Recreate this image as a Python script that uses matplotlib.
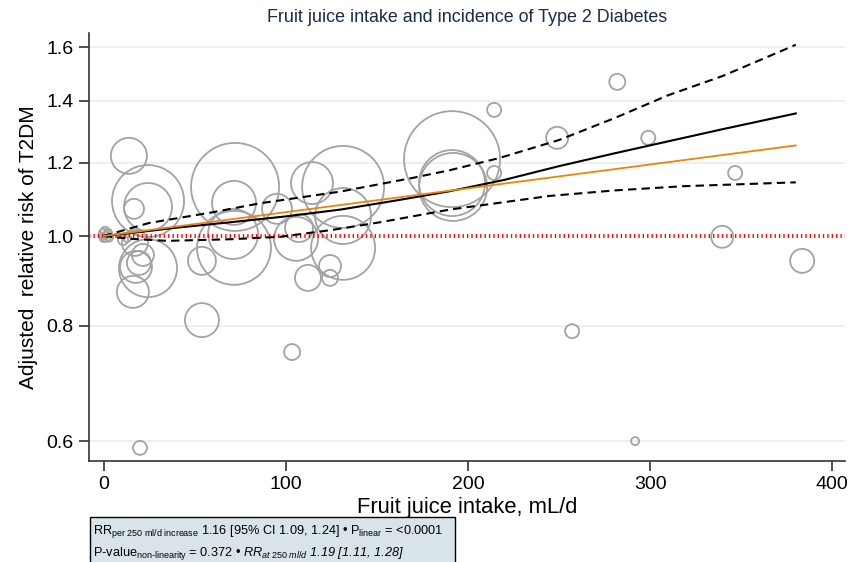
import numpy as np
import matplotlib
matplotlib.use("Agg")
import matplotlib.pyplot as plt
from matplotlib.patches import Rectangle

plt.rcParams['font.family'] = ['Liberation Sans', 'DejaVu Sans']
plt.rcParams['mathtext.fontset'] = 'custom'
plt.rcParams['mathtext.rm'] = 'Liberation Sans'
plt.rcParams['mathtext.it'] = 'Liberation Sans:italic'


# Study-level estimates (intake mL/d, relative risk, relative weight)

study_intake = [0, 1.3, 0, 2.4, 0.8, 3.0, 10.7, 12.9,
                13.9, 24.4, 24.4, 16.7, 24.4, 16.1, 17.8, 19.4, 21.6, 17.2, 20.0,
                72.2, 71.6, 71.6, 71.1, 54.0, 54.0, 95.2, 114.4, 131.5, 107.3,
                131.5, 105.7, 131.5, 112.2, 124.3, 124.3, 103.5,
                191.3, 191.3, 191.9, 214.4, 214.4, 282.0, 249.0, 299.0, 346.7,
                339.6, 383.5, 257.2, 291.8]
study_rr = [1.005, 0.998, 0.995, 1.008, 1.012, 0.996, 0.990, 0.995,
            1.221, 1.091, 1.075, 1.070, 0.923, 0.870, 0.926, 0.935, 0.954, 0.983, 0.590,
            1.130, 1.086, 0.971, 1.005, 0.940, 0.811, 1.070, 1.141, 1.130, 1.020,
            1.051, 0.993, 0.971, 0.901, 0.928, 0.901, 0.749,
            1.211, 1.141, 1.130, 1.369, 1.170, 1.468, 1.277, 1.277, 1.170,
            0.998, 0.940, 0.789, 0.600]
study_weight = [0.25, 0.25, 0.16, 0.16, 0.20, 0.16, 0.25, 0.16,
                3.24, 12.96, 5.76, 1.00, 8.41, 2.56, 2.56, 1.44, 1.21, 1.69, 0.49,
                19.36, 4.84, 13.69, 6.25, 1.96, 2.89, 2.25, 4.41, 16.81, 1.96,
                7.84, 4.84, 10.24, 1.69, 1.21, 0.64, 0.64,
                23.04, 10.89, 11.56, 0.49, 0.49, 0.64, 1.21, 0.49, 0.49,
                1.21, 1.44, 0.49, 0.16]

# Dose-response curves
spline_x = [0, 20, 40, 70, 100, 130, 160, 190, 220, 250, 280, 310, 340, 380]
spline_rr = [1.000, 1.010, 1.021, 1.035, 1.050, 1.068, 1.092, 1.118, 1.150,
             1.190, 1.228, 1.266, 1.305, 1.357]
upper_x = [0, 25, 60, 86, 100, 130, 169, 190, 217, 250, 280, 310, 340, 380]
upper_rr = [1.000, 1.033, 1.061, 1.085, 1.095, 1.117, 1.155, 1.178, 1.214,
            1.270, 1.340, 1.420, 1.490, 1.610]
lower_x = [0, 15, 35, 70, 97, 125, 152, 190, 245, 280, 318, 380]
lower_rr = [1.000, 0.993, 0.988, 0.992, 0.998, 1.015, 1.035, 1.068, 1.105,
            1.120, 1.132, 1.143]
linear_x = [0, 380]
linear_rr = [1.000, 1.253]

x_ticks = [0, 100, 200, 300, 400]
y_ticks = [0.6, 0.8, 1.0, 1.2, 1.4, 1.6]

note_line1 = (r"RR$_{\mathrm{per\ 250\ ml/d\ increase}}$ 1.16 [95% CI 1.09, 1.24] • "
              r"P$_{\mathrm{linear}}$ = <0.0001")
note_line2a = r"P-value$_{\mathrm{non\text{-}linearity}}$ = 0.372 • "
note_line2b = r"RR$_{\mathit{at\ 250\ ml/d}}$ 1.19 [1.11, 1.28]"


fig = plt.figure(figsize=(8.5, 5.62), dpi=100)
ax = fig.add_axes([0.1047, 0.1797, 0.8894, 0.7616])

sizes = [w * 207.36 for w in study_weight]
ax.scatter(study_intake, study_rr, s=sizes, facecolors='none',
           edgecolors='#a3a3a3', linewidths=1.3, zorder=2)

ax.axhline(1.0, color='red', lw=2.8, linestyle=(0, (0.35, 0.78)),
           dash_capstyle='butt', zorder=3)

ax.plot(upper_x, upper_rr, color='black', lw=1.5, linestyle=(0, (4, 2.5)), zorder=4)
ax.plot(lower_x, lower_rr, color='black', lw=1.5, linestyle=(0, (4, 2.5)), zorder=4)
ax.plot(spline_x, spline_rr, color='black', lw=1.5, zorder=5)
ax.plot(linear_x, linear_rr, color='#e8860c', lw=1.3, zorder=5)

ax.set_yscale('log')
ax.set_xlim(-8, 407)
ax.set_ylim(0.571, 1.658)
ax.set_xticks(x_ticks)
ax.set_xticklabels([str(t) for t in x_ticks])
ax.set_yticks(y_ticks)
ax.set_yticklabels([f"{t:.1f}" for t in y_ticks])
ax.yaxis.set_minor_locator(matplotlib.ticker.NullLocator())
ax.tick_params(axis='both', labelsize=14, length=7, width=1.2, color='#333333',
               direction='out')
ax.tick_params(axis='x', pad=4)
ax.tick_params(axis='y', pad=4)

for t in y_ticks:
    if t != 1.0:
        ax.axhline(t, color='#eaf1f3', lw=1.5, zorder=0)

for side in ['top', 'right']:
    ax.spines[side].set_visible(False)
for side in ['left', 'bottom']:
    ax.spines[side].set_color('#333333')
    ax.spines[side].set_linewidth(1.2)

ax.set_xlabel('Fruit juice intake, mL/d', fontsize=15.8, labelpad=3)
ax.set_ylabel('Adjusted  relative risk of T2DM', fontsize=15, labelpad=6)
fig.text(0.549, 0.968, 'Fruit juice intake and incidence of Type 2 Diabetes',
         ha='center', va='center', fontsize=12.9, color='#1c2b4a')

# Note box
fig.patches.append(Rectangle((90 / 850, -0.02), 365 / 850, 0.02 + 45 / 562,
                             transform=fig.transFigure, facecolor='#d9e4ea',
                             edgecolor='black', lw=1.0))
fig.text(93 / 850, 1 - 531 / 562, note_line1, fontsize=9.2, va='center')
part_a = fig.text(93 / 850, 1 - 553 / 562, note_line2a, fontsize=9.2, va='center')
renderer = fig.canvas.get_renderer()
bb = part_a.get_window_extent(renderer=renderer)
fig.text(bb.x1 / 850 + 0.002, 1 - 553 / 562, note_line2b, fontsize=9.2,
         va='center', style='italic')

fig.savefig('out.png', dpi=100)
